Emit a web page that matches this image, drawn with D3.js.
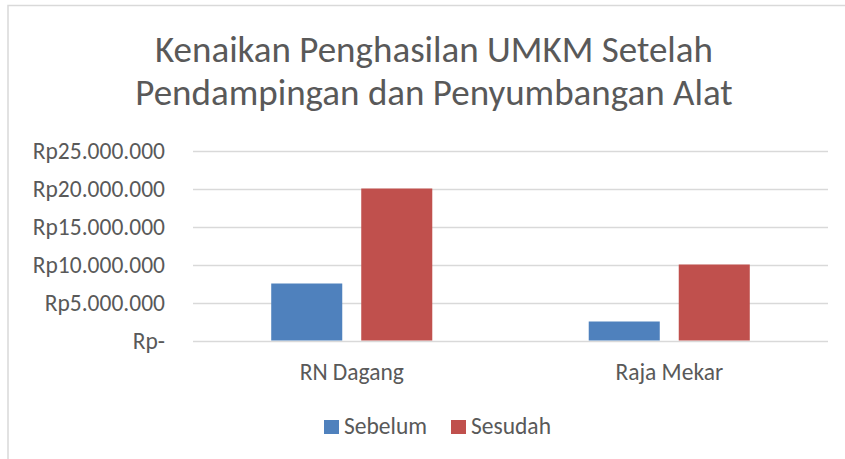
<!DOCTYPE html>
<html>
<head>
<meta charset="utf-8">
<script src="https://cdn.jsdelivr.net/npm/d3@7"></script>
<style>
  body { margin: 0; background: #fff; }
  text { font-family: Carlito, Lato, "Liberation Sans", sans-serif; fill: #595959; }
</style>
</head>
<body>
<div id="chart"></div>
<script>
const width = 845;
const height = 459;

// data
const categories = ["RN Dagang", "Raja Mekar"];
const seriesNames = ["Sebelum", "Sesudah"];
const sebelum = [7500000, 2500000];
const sesudah = [20000000, 10000000];
const yTicks = [0, 5000000, 10000000, 15000000, 20000000, 25000000];
const titleLines = ["Kenaikan Penghasilan UMKM Setelah", "Pendampingan dan Penyumbangan Alat"];
const colors = ["#4F81BD", "#C0504D"];

const plot = { left: 193, right: 828, top: 150.5, bottom: 340.5 };
const labelSize = 23.5;

const svg = d3.select("#chart")
    .append("svg")
    .attr("width", width)
    .attr("height", height);

// chart border (only top/left visible in the crop)
svg.append("rect")
    .attr("x", 8).attr("y", 5.5)
    .attr("width", 900).attr("height", 500)
    .attr("fill", "none")
    .attr("stroke", "#d9d9d9")
    .attr("stroke-width", 1.5);

// title
svg.append("text")
    .attr("text-anchor", "middle")
    .attr("font-size", 37)
    .selectAll("tspan")
    .data(titleLines)
    .enter().append("tspan")
    .attr("x", 434)
    .attr("y", (d, i) => 62 + i * 43)
    .text(d => d);

const y = d3.scaleLinear()
    .domain([0, 25000000])
    .range([plot.bottom, plot.top]);

const x0 = d3.scaleBand()
    .domain(categories)
    .range([plot.left, plot.right]);

const x1 = d3.scaleBand()
    .domain(seriesNames)
    .range([0, x0.bandwidth()])
    .paddingInner(0.211)
    .paddingOuter(0.869);

const fmt = v => v === 0 ? "Rp-" : "Rp" + d3.format(",")(v).replace(/,/g, ".");

// gridlines
svg.append("g")
    .selectAll("line")
    .data(yTicks)
    .enter().append("line")
    .attr("x1", plot.left)
    .attr("x2", plot.right)
    .attr("y1", d => Math.round(y(d)) + 0.5)
    .attr("y2", d => Math.round(y(d)) + 0.5)
    .attr("stroke", "#d9d9d9")
    .attr("stroke-width", 1.5);

// y axis labels
const yAxis = svg.append("g")
    .attr("transform", `translate(${plot.left},0)`)
    .call(d3.axisLeft(y).tickValues(yTicks).tickFormat(fmt).tickSize(0).tickPadding(28));
yAxis.select(".domain").remove();
yAxis.selectAll("text")
    .attr("font-size", labelSize)
    .attr("fill", "#595959")
    .style("font-family", "Carlito, Lato, sans-serif");

// bars
const rows = categories.map((c, i) => ({ cat: c, vals: [sebelum[i], sesudah[i]] }));

const groups = svg.selectAll(".group")
    .data(rows)
    .enter().append("g")
    .attr("class", "group")
    .attr("transform", d => `translate(${x0(d.cat)},0)`);

groups.selectAll("rect")
    .data(d => d.vals.map((v, j) => ({ name: seriesNames[j], value: v, j: j })))
    .enter().append("rect")
    .attr("x", d => x1(d.name))
    .attr("y", d => y(d.value))
    .attr("width", x1.bandwidth())
    .attr("height", d => y(0) - y(d.value))
    .attr("fill", d => colors[d.j]);

// category labels
const xAxis = svg.append("g")
    .attr("transform", `translate(0,${plot.bottom})`)
    .call(d3.axisBottom(x0).tickSize(0).tickPadding(23));
xAxis.select(".domain").remove();
xAxis.selectAll("text")
    .attr("font-size", labelSize)
    .attr("fill", "#595959")
    .style("font-family", "Carlito, Lato, sans-serif");

// legend
const legend = svg.append("g").attr("transform", "translate(324,0)");
const legendX = [0, 127];
seriesNames.forEach((name, i) => {
    legend.append("rect")
        .attr("x", legendX[i])
        .attr("y", 420)
        .attr("width", 15)
        .attr("height", 14)
        .attr("fill", colors[i]);
    legend.append("text")
        .attr("x", legendX[i] + 20)
        .attr("y", 434)
        .attr("font-size", labelSize)
        .text(name);
});
</script>
</body>
</html>
